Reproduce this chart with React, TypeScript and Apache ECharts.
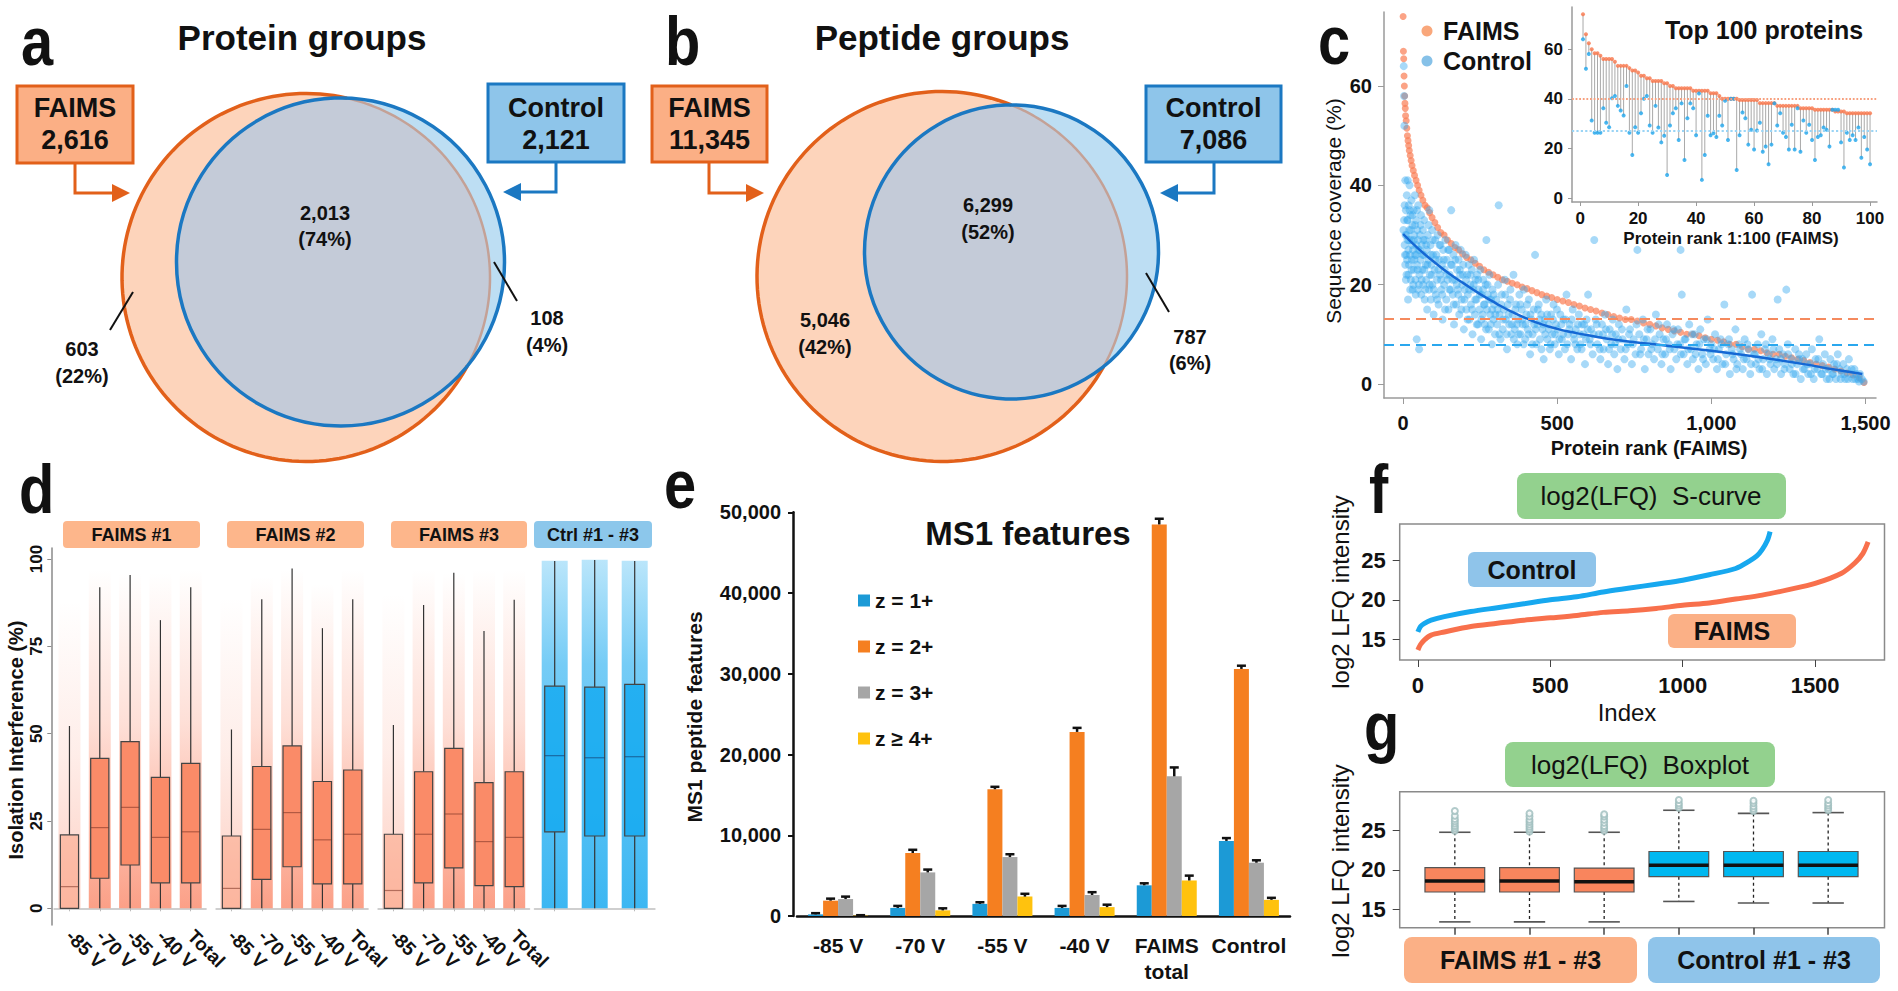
import React, { useEffect, useRef } from "react";
import * as echarts from "echarts";

const FONT = '"Liberation Sans", Arial, Helvetica, sans-serif';

// ---------------- Panels a & b : Venn diagrams ----------------
const vennTitles = ["Protein groups", "Peptide groups"];
const vennFaimsTotals = ["2,616", "11,345"];
const vennCtrlTotals = ["2,121", "7,086"];
const vennShared = ["2,013", "6,299"];
const vennSharedPct = ["(74%)", "(52%)"];
const vennFaimsOnly = ["603", "5,046"];
const vennFaimsOnlyPct = ["(22%)", "(42%)"];
const vennCtrlOnly = ["108", "787"];
const vennCtrlOnlyPct = ["(4%)", "(6%)"];

// ---------------- Panel c : sequence coverage ----------------
const faimsCov = [
  [0,74],[1,67],[2,65.5],[3,62],[4,60],[5,58],[6,56.5],[7,55.5],[8,54],[10,53],[12,51.5],[14,50],[16,49],[18,48],[20,47],[23,46],[26,45],[29,44],[33,43],[37,42],[42,41],[47,40],[52,39],[58,38],[64,37],[71,36],[78,35.5],[86,34.5],[94,33.5],[103,32.5],[112,31.5],[122,30.5],[133,30],[144,29],[156,28.3],[168,27.5],[180,27],[193,26.2],[206,25.5],[220,25],[234,24.3],[248,23.7],[262,23],[277,22.5],[292,22],[307,21.5],[322,21],[338,20.7],[354,20.3],[370,20],[386,19.5],[402,19.2],[418,18.8],[434,18.4],[450,18],[466,17.7],[482,17.4],[500,17],[518,16.7],[536,16.4],[554,16],[572,15.7],[590,15.3],[608,15],[626,14.7],[645,14.3],[664,14],[683,13.6],[702,13.3],[721,13],[740,13],[760,12.7],[780,12.3],[800,12],[820,11.7],[840,11.3],[860,11],[880,10.7],[900,10.4],[920,10],[940,10],[960,9.7],[980,9.3],[1000,9],[1020,8.8],[1040,8.5],[1060,8],[1080,8],[1100,7.5],[1120,7],[1140,7],[1160,6.7],[1180,6.3],[1200,6],[1220,6],[1240,5.6],[1260,5.3],[1280,5],[1300,4.7],[1320,4.3],[1340,4],[1360,3.7],[1380,3.4],[1400,3],[1420,2.6],[1440,2.2],[1460,1.8],[1480,1.2],[1495,0.3]
];
const ctrlCov = [
  [1,31],[2,64],[3,58],[4,52],[5,28],[6,26],[7,41],[8,30],[9,35],[10,26],[11,22],[12,38],[13,33],[14,29],[15,41],[16,17],[17,27],[18,36],[19,24],[20,31],[21,40],[22,26],[24,34],[25,21],[26,29],[27,37],[28,25],[30,32],[31,19],[32,27],[34,35],[35,23],[36,30],[38,38],[39,26],[40,21],[42,33],[43,28],[44,9],[45,24],[46,31],[48,19],[49,36],[50,27],[52,7],[53,22],[55,30],[56,25],[58,34],[59,18],[60,28],[62,23],[64,31],[65,20],[67,26],[68,33],[70,17],[72,29],[73,24],[75,21],[77,27],[78,15],[80,30],[82,25],[84,19],[85,35],[87,22],[89,28],[90,17],[92,24],[94,31],[95,20],[97,26],[99,14],
  [102,23],[104,29],[106,18],[108,26],[110,21],[112,30],[115,16],[117,25],[119,22],[121,28],[124,19],[126,24],[128,13],[130,27],[133,20],[135,23],[137,29],[140,17],[142,25],[144,21],[147,15],[149,27],[151,22],[154,19],[156,35],[158,24],[161,18],[163,26],[165,12],[168,21],[170,28],[172,16],[175,23],[177,19],[180,25],[182,14],[185,22],[187,27],[190,17],[192,20],[195,24],[197,11],[200,19],[203,26],[205,15],[208,22],[210,18],[213,24],[215,13],[218,20],[220,16],[223,23],[225,10],[228,19],[230,25],[233,14],[235,21],[238,17],[240,22],[243,12],[245,19],[248,15],[250,23],[253,9],[255,18],[258,14],[260,21],[262,16],[265,12],[268,20],[270,29],[272,15],[275,18],[278,11],[280,22],[283,14],[285,17],[288,8],[290,19],[293,13],[295,16],[298,10],
  [302,17],[305,12],[308,20],[310,36],[313,14],[316,9],[320,18],[323,11],[327,15],[330,21],[333,13],[337,7],[340,16],[344,12],[348,19],[351,10],[355,14],[358,22],[362,11],[366,16],[370,8],[373,13],[377,18],[381,10],[385,15],[388,12],[392,19],[396,9],[400,14],[404,11],[408,17],[412,6],[416,13],[420,10],[424,15],[428,26],[432,8],[436,12],[440,16],[444,9],[448,14],[452,11],[456,5],[460,13],[464,17],[468,9],[472,12],[476,7],[480,14],[484,10],[488,16],[492,8],[496,12],[500,11],[505,6],[510,14],[515,9],[520,13],[525,7],[530,18],[535,10],[540,12],[545,5],[550,15],[555,9],[560,11],[565,7],[570,14],[575,8],[580,12],[585,10],[590,4],[595,13],
  [600,18],[605,9],[610,11],[615,6],[620,29],[625,13],[630,8],[635,10],[640,5],[645,12],[650,7],[655,14],[660,9],[665,4],[670,11],[675,8],[680,13],[685,6],[690,10],[695,3],[700,12],[706,7],[712,9],[718,5],[724,15],[730,8],[736,11],[742,4],[748,9],[754,6],[760,27],[766,10],[772,7],[778,13],[784,3],[790,9],[796,6],[802,11],[808,8],[814,5],[820,14],[826,7],[832,10],[838,4],[844,9],[850,6],[856,12],[862,8],[868,3],[874,10],[880,7],[886,5],[892,11],[898,8],[900,27],[904,18],[910,6],[916,9],[922,4],[928,12],[934,7],[940,5],[946,10],[952,8],[958,3],[964,11],[970,6],[976,9],[982,4],[988,13],[994,7],
  [1000,8],[1006,5],[1012,10],[1018,3],[1024,7],[1030,9],[1036,4],[1042,16],[1048,6],[1054,8],[1060,2],[1066,7],[1072,5],[1078,11],[1084,4],[1090,8],[1096,6],[1102,3],[1108,9],[1114,5],[1120,7],[1126,2],[1132,18],[1138,6],[1144,4],[1150,8],[1156,3],[1162,10],[1168,5],[1174,7],[1180,2],[1186,6],[1192,4],[1198,9],[1204,3],[1210,5],[1215,17],[1220,7],[1226,2],[1232,6],[1238,4],[1243,19],[1248,8],[1254,3],[1260,5],[1266,2],[1272,7],[1278,4],[1284,6],[1290,1],[1296,5],
  [1302,3],[1308,6],[1314,2],[1320,4],[1326,7],[1332,1],[1338,5],[1344,3],[1350,9],[1356,2],[1362,4],[1368,6],[1374,1],[1380,3],[1386,5],[1392,2],[1398,4],[1404,1],[1410,6],[1416,3],[1422,2],[1428,4],[1434,1],[1440,3],[1446,5],[1452,2],[1458,1],[1464,3],[1470,2],[1476,1],[1482,2],[1488,1],[1494,0.5],
  [3,33],[5,36],[7,24],[9,21],[11,30],[13,25],[15,33],[17,22],[19,29],[21,35],[23,19],[25,31],[27,23],[29,28],[31,34],[33,20],[35,29],[37,25],[39,32],[41,18],[43,26],[45,35],[47,23],[49,29],[51,20],[54,27],[57,32],[60,21],[63,26],[66,29],[69,23],[72,19],[75,28],[79,24],[83,32],[86,20],[90,26],[93,22],[96,29],[100,19],[105,25],[110,17],[114,23],[118,28],[123,21],[127,18],[132,25],[136,15],[141,22],[146,27],[150,19],[155,24],[160,21],[164,16],[169,25],[174,20],[179,18],[184,23],[189,15],[194,22],[199,17],[204,21],[209,13],[214,19],[219,22],[224,15],[229,20],[234,17],[239,12],[244,21],[249,18],[254,13],[259,19],[264,16],[269,11],[274,20],[279,17],[284,12],[289,15],[294,18],[299,14],
  [306,15],[312,10],[318,16],[324,13],[331,18],[336,10],[342,14],[347,17],[353,12],[359,9],[364,15],[369,12],[375,10],[380,16],[386,13],[391,8],[397,12],[402,16],[407,10],[413,14],[419,8],[425,12],[430,11],[437,15],[443,13],[449,7],[455,12],[461,10],[467,14],[473,11],[479,8],[486,13],[493,10],[499,15],[507,9],[513,12],[519,10],[527,13],[533,8],[539,11],[547,13],[553,10],[559,8],[567,12],[573,10],[579,7],[587,12],[593,9],[599,11],[608,8],[618,10],[628,12],[638,7],[648,10],[658,11],[668,7],[678,10],[688,8],[698,9],
  [710,11],[722,7],[733,10],[745,8],[757,12],[769,6],[781,9],[793,11],[805,7],[817,9],[829,12],[841,6],[853,9],[865,7],[877,11],[889,8],[901,6],[913,9],[925,7],[937,10],[949,6],[961,8],[973,5],[985,9],[997,6],[1009,7],[1021,5],[1033,8],[1045,4],[1057,9],[1069,6],[1081,3],[1093,7],[1105,5],[1117,8],[1129,4],[1141,6],[1153,5],[1165,3],[1177,8],[1189,5],[1201,7],[1213,4],[1225,5],[1237,3],[1249,6],[1261,4],[1273,2],[1285,5],[1297,3],[1311,4],[1323,2],[1335,3],[1347,5],[1359,2],[1371,3],[1383,1],[1395,2],[1407,4],[1419,1],[1431,2],[1443,1],[1455,3],[1467,1],[1479,0.5]
];
const ctrlTrend = [[0,30.2],[50,27.2],[100,24.6],[150,22.2],[200,20.1],[250,18.1],[300,16.3],[350,14.6],[400,13.2],[450,12.0],[500,11.1],[550,10.4],[600,9.8],[700,8.8],[800,8.1],[900,7.4],[1000,6.7],[1100,5.9],[1200,5.0],[1300,4.0],[1400,2.9],[1490,2.0]];
const faimsMedianCov = 13.1;
const ctrlMedianCov = 8.0;
const cRankTicks = [0, 500, 1000, 1500];
const cCovTicks = [0, 20, 40, 60];

// inset: top 100 proteins (rank 1..100)
const topFaims = [74.1,66,62.4,60,58.4,58.4,57.4,56.1,56.1,56.1,56.1,55,53.3,53.3,53.3,53.3,52.4,51.4,51.4,50.6,49.3,49.3,48.3,48.3,47.2,47.2,47.2,47.2,46.3,46.3,45.2,45.2,44.3,44.3,44.3,44.3,44.3,44.3,43.3,43.3,43.3,43.3,43.3,43.3,42.3,42.3,42.3,41.2,40.1,40.1,40.1,40.1,40.1,40.1,39.6,39.6,39.6,39.6,39.6,39.6,39.6,38.3,38.3,38.3,38.3,38.3,38.3,37.2,37.2,37.2,37.2,37.2,37.2,37.2,37.2,36.2,36.2,36.2,36.2,36.2,35.6,35.6,35.6,35.6,35.6,35.6,35.6,34.9,34.9,34.9,34.9,34.2,34.2,34.2,34.2,34.2,34.2,34.2,34.2,34.2];
const topCtrl = [64,52.1,58.1,31.3,26.4,26.4,26.4,36.2,30.4,28.6,40.3,41.2,37.2,35.3,33.3,45.2,26.4,17.4,28.6,26.4,34.2,40.1,41.2,29.3,26.4,37.2,28.5,22.5,25.2,9.4,29.3,34.2,36.2,23.5,38.2,15.4,32.2,38.2,36.2,25.4,42.2,7.4,17.4,33.2,25.4,26.2,24.7,33.2,29.3,39.3,23.5,40.1,40.1,11.4,25.4,34.5,32.2,21.6,27.6,19.6,27.3,30.4,18.7,20.8,13.7,21.6,38.2,29.3,34.2,26.4,24.7,19.6,29.6,19.6,36.2,18.7,31.3,26.4,29.6,23.5,15.4,24.7,25.4,28.5,27.6,20.8,35.6,35.6,35.6,22.5,12.4,26.4,23.5,25.4,23.5,28.5,16.3,24.7,19.6,13.7];
const topFaimsMedian = 40;
const topCtrlMedian = 27;
const insetRankTicks = [0, 20, 40, 60, 80, 100];

// ---------------- Panel d : isolation interference ----------------
const dCats = ["-85 V", "-70 V", "-55 V", "-40 V", "Total"];
const dCtrlCats = ["Ctrl #1", "Ctrl #2", "Ctrl #3"];
const dStrips = ["FAIMS #1", "FAIMS #2", "FAIMS #3", "Ctrl #1 - #3"];
// [lower whisker, Q1, median, Q3, upper whisker]
const faims1Box = [[0,0,6.2,21,52.2],[0,8.6,23.1,42.9,91.9],[0,12.4,28.9,47.7,95.4],[0,7.3,20.3,37.5,82.5],[0,7.3,21.9,41.5,91.9]];
const faims2Box = [[0,0,5.7,20.7,51.2],[0,8.3,22.6,40.6,88.5],[0,11.9,27.4,46.5,97.3],[0,7.0,19.6,36.3,80.2],[0,7.0,21.2,39.6,88.5]];
const faims3Box = [[0,0,5.1,21.2,52.5],[0,7.3,21.2,39.1,86.8],[0,11.6,27.0,45.8,96.1],[0,6.5,19.1,36.0,79.4],[0,6.2,20.3,39.1,88.3]];
const ctrlBox = [[0,21.9,43.7,63.6,99.4],[0,20.7,43.1,63.3,99.7],[0,20.7,43.4,64.1,99.4]];
// top of the jittered point cloud
const faims1Cloud = [88, 97, 96, 96, 97];
const faims2Cloud = [89, 95, 97, 93, 97];
const faims3Cloud = [90, 97, 96, 97, 97];
const ctrlCloud = [99.5, 99.8, 99.5];
const dTicks = [0, 25, 50, 75, 100];

// ---------------- Panel e : MS1 features ----------------
const eCats = ["-85 V", "-70 V", "-55 V", "-40 V", "FAIMS\ntotal", "Control"];
const zNames = ["z = 1+", "z = 2+", "z = 3+", "z ≥ 4+"];
const z1 = [200, 1000, 1500, 1000, 3800, 9300];
const z2 = [1900, 7800, 15700, 22800, 48500, 30600];
const z3 = [2100, 5400, 7300, 2600, 17300, 6600];
const z4 = [50, 700, 2400, 1100, 4400, 2000];
const z1Err = [150, 250, 200, 250, 250, 350];
const z2Err = [250, 400, 300, 500, 700, 400];
const z3Err = [300, 350, 350, 350, 1100, 300];
const z4Err = [50, 250, 350, 300, 600, 250];

// ---------------- Panel f : S-curve ----------------
const sCurveCtrl = [[0,15.9],[10,16.6],[25,17.0],[50,17.4],[100,17.85],[200,18.5],[300,19.0],[400,19.5],[500,20.0],[600,20.4],[700,21.0],[800,21.5],[900,22.0],[1000,22.5],[1100,23.2],[1200,24.0],[1250,24.9],[1280,25.6],[1300,26.4],[1320,27.6],[1330,28.7]];
const sCurveFaims = [[0,13.6],[10,14.3],[25,14.9],[50,15.5],[100,15.9],[200,16.6],[300,17.0],[400,17.4],[500,17.7],[600,18.0],[700,18.4],[800,18.6],[900,18.9],[1000,19.3],[1100,19.6],[1200,20.1],[1300,20.6],[1400,21.3],[1500,22.1],[1600,23.4],[1650,24.7],[1680,25.9],[1700,27.4]];
const fIndexTicks = [0, 500, 1000, 1500];
const lfqTicks = [15, 20, 25];

// ---------------- Panel g : LFQ boxplot ----------------
const gCats = ["FAIMS #1", "FAIMS #2", "FAIMS #3", "Control #1", "Control #2", "Control #3"];
const gMin = [13.4, 13.4, 13.4, 16.0, 15.8, 15.8];
const gQ1 = [17.2, 17.2, 17.2, 19.15, 19.15, 19.15];
const gMed = [18.6, 18.6, 18.5, 20.6, 20.6, 20.6];
const gQ3 = [20.3, 20.3, 20.25, 22.35, 22.35, 22.35];
const gMax = [24.8, 24.8, 24.8, 27.6, 27.2, 27.3];
const gOutliers = [
  [0,25.0],[0,25.3],[0,25.6],[0,25.9],[0,26.2],[0,26.5],[0,26.9],[0,27.5],
  [1,24.9],[1,25.2],[1,25.5],[1,25.8],[1,26.1],[1,26.4],[1,26.8],[1,27.2],
  [2,25.0],[2,25.3],[2,25.6],[2,26.0],[2,26.4],[2,26.8],[2,27.1],
  [3,27.9],[3,28.2],[3,28.5],[3,28.9],
  [4,27.5],[4,27.8],[4,28.1],[4,28.5],[4,28.8],
  [5,27.6],[5,27.9],[5,28.2],[5,28.5],[5,28.9]
];

// ---------------- helpers ----------------
const ORANGE = "#E2601A";
const BLUE = "#1B78C2";
const fmt = (v: number) => Number(v).toLocaleString("en-US");
const plain = (v: number) => String(v);

function arcThrough(cx: number, cy: number, r: number, t1: number, t2: number, phi: number) {
  const TAU = Math.PI * 2;
  const mod = (v: number) => ((v % TAU) + TAU) % TAU;
  const du = mod(t2 - t1);
  const inc = mod(phi - t1) < du;
  const span = inc ? du : -(TAU - du);
  const pts: number[][] = [];
  const n = 120;
  for (let k = 0; k <= n; k++) {
    const t = t1 + (span * k) / n;
    pts.push([cx + r * Math.cos(t), cy + r * Math.sin(t)]);
  }
  return pts;
}

function venn(ax: number, ay: number, ar: number, bx: number, by: number, br: number) {
  const dx = bx - ax, dy = by - ay, d = Math.hypot(dx, dy);
  const a = (ar * ar - br * br + d * d) / (2 * d);
  const h = Math.sqrt(Math.max(0, ar * ar - a * a));
  const mx = ax + (a * dx) / d, my = ay + (a * dy) / d;
  const p1 = [mx - (h * dy) / d, my + (h * dx) / d];
  const p2 = [mx + (h * dy) / d, my - (h * dx) / d];
  const angA = (p: number[]) => Math.atan2(p[1] - ay, p[0] - ax);
  const angB = (p: number[]) => Math.atan2(p[1] - by, p[0] - bx);
  const phiA = Math.atan2(dy, dx);
  const phiB = Math.atan2(-dy, -dx);
  const bIn = arcThrough(bx, by, br, angB(p1), angB(p2), phiB);
  const aIn = arcThrough(ax, ay, ar, angA(p2), angA(p1), phiA);
  const aOut = arcThrough(ax, ay, ar, angA(p2), angA(p1), phiA + Math.PI);
  return [
    { type: "circle", z: 1, silent: true, shape: { cx: ax, cy: ay, r: ar }, style: { fill: "#FDD4BB", stroke: "none" } },
    { type: "circle", z: 2, silent: true, shape: { cx: bx, cy: by, r: br }, style: { fill: "#BDDEF3", stroke: "none" } },
    { type: "polygon", z: 3, silent: true, shape: { points: bIn.concat(aIn) }, style: { fill: "#C4CBD8", stroke: "none" } },
    { type: "polyline", z: 4, silent: true, shape: { points: aIn }, style: { fill: "none", stroke: "#C4A196", lineWidth: 2.5 } },
    { type: "polyline", z: 4, silent: true, shape: { points: aOut }, style: { fill: "none", stroke: ORANGE, lineWidth: 3.5 } },
    { type: "circle", z: 5, silent: true, shape: { cx: bx, cy: by, r: br }, style: { fill: "none", stroke: BLUE, lineWidth: 3.5 } },
  ];
}

function buildGraphics() {
  const G: any[] = [];
  const T = (x: number, y: number, text: string, size: number, o: any = {}) =>
    G.push({
      type: "text", x, y, rotation: o.rot || 0, scaleX: o.sx || 1, z: 20, silent: true,
      style: {
        text, fontSize: size, fontWeight: o.w || "bold", fontFamily: FONT, fill: o.c || "#111",
        align: o.a || "center", verticalAlign: "middle", textAlign: o.a || "center", textVerticalAlign: "middle",
      },
    });
  const R = (x: number, y: number, w: number, h: number, fill: string, stroke?: string, lw = 0, r = 0) =>
    G.push({ type: "rect", z: 6, silent: true, shape: { x, y, width: w, height: h, r }, style: { fill, stroke: stroke || "none", lineWidth: lw } });
  const PL = (pts: number[][], color: string) =>
    G.push({ type: "polyline", z: 6, silent: true, shape: { points: pts }, style: { fill: "none", stroke: color, lineWidth: 3 } });
  const PG = (pts: number[][], color: string) =>
    G.push({ type: "polygon", z: 6, silent: true, shape: { points: pts }, style: { fill: color, stroke: "none" } });
  const LN = (x1: number, y1: number, x2: number, y2: number) =>
    G.push({ type: "line", z: 8, silent: true, shape: { x1, y1, x2, y2 }, style: { stroke: "#111", lineWidth: 2 } });

  // panel letters
  const L = (x: number, y: number, t: string) => T(x, y, t, 68, { a: "left", sx: 0.85 });
  L(21, 41, "a"); L(665, 41, "b"); L(1318, 40, "c"); L(19, 489, "d"); L(664, 484, "e"); L(1369, 489, "f"); L(1364, 726, "g");

  // ---- Venn a ----
  G.push(...venn(306, 277.5, 184, 340.5, 262, 164));
  T(302, 37, vennTitles[0], 35);
  R(17, 86, 116, 77, "#FBAF85", ORANGE, 3);
  T(75, 108, "FAIMS", 27); T(75, 140, vennFaimsTotals[0], 27);
  R(488, 84, 136, 78, "#8EC5EA", BLUE, 3);
  T(556, 108, "Control", 27); T(556, 140, vennCtrlTotals[0], 27);
  PL([[75, 163], [75, 193], [114, 193]], ORANGE); PG([[112, 184], [130, 193], [112, 202]], ORANGE);
  PL([[556, 162], [556, 192], [519, 192]], BLUE); PG([[521, 183], [503, 192], [521, 201]], BLUE);
  T(325, 213, vennShared[0], 20); T(325, 239, vennSharedPct[0], 20);
  T(82, 349, vennFaimsOnly[0], 20); T(82, 376, vennFaimsOnlyPct[0], 20);
  T(547, 318, vennCtrlOnly[0], 20); T(547, 345, vennCtrlOnlyPct[0], 20);
  LN(133, 292, 110, 330); LN(494, 262, 517, 301);

  // ---- Venn b ----
  G.push(...venn(942, 276.5, 185, 1011.5, 252, 147));
  T(942, 37, vennTitles[1], 35);
  R(652, 86, 115, 76, "#FBAF85", ORANGE, 3);
  T(709.5, 108, "FAIMS", 27); T(709.5, 140, vennFaimsTotals[1], 27);
  R(1146, 86, 135, 76, "#8EC5EA", BLUE, 3);
  T(1213.5, 108, "Control", 27); T(1213.5, 140, vennCtrlTotals[1], 27);
  PL([[709, 162], [709, 193], [748, 193]], ORANGE); PG([[746, 184], [764, 193], [746, 202]], ORANGE);
  PL([[1214, 162], [1214, 193], [1177, 193]], BLUE); PG([[1178, 184], [1160, 193], [1178, 202]], BLUE);
  T(988, 205, vennShared[1], 20); T(988, 232, vennSharedPct[1], 20);
  T(825, 320, vennFaimsOnly[1], 20); T(825, 347, vennFaimsOnlyPct[1], 20);
  T(1190, 337, vennCtrlOnly[1], 20); T(1190, 363, vennCtrlOnlyPct[1], 20);
  LN(1146, 273, 1169, 312);

  // ---- panel c texts ----
  T(1333, 211, "Sequence coverage (%)", 21, { rot: Math.PI / 2, w: "normal" });
  T(1649, 448, "Protein rank (FAIMS)", 20);
  G.push({ type: "circle", z: 20, silent: true, shape: { cx: 1427, cy: 31, r: 5.5 }, style: { fill: "#F9A77B" } });
  G.push({ type: "circle", z: 20, silent: true, shape: { cx: 1427, cy: 61, r: 5.5 }, style: { fill: "#86C1E8" } });
  T(1443, 31, "FAIMS", 25, { a: "left" });
  T(1443, 61, "Control", 25, { a: "left" });
  T(1764, 30, "Top 100 proteins", 25);
  T(1731, 238, "Protein rank 1:100 (FAIMS)", 17);

  // ---- panel d texts ----
  const stripX = [[63, 137], [227, 137], [391, 136], [534, 118]];
  stripX.forEach(([x, w], i) => {
    R(x, 521, w, 27, i < 3 ? "#FDB68B" : "#8CC7EB", undefined, 0, 4);
    T(x + w / 2, 535, dStrips[i], 18);
  });
  T(16, 740, "Isolation Interference (%)", 20, { rot: Math.PI / 2 });

  // ---- panel e texts ----
  T(1028, 533, "MS1 features", 33);
  T(694, 717, "MS1 peptide features", 21, { rot: Math.PI / 2 });

  // ---- panel f ----
  R(1517, 473, 269, 46, "#93D18E", undefined, 0, 8);
  T(1651, 496, "log2(LFQ)  S-curve", 26, { w: "normal" });
  R(1468, 552, 128, 35, "#8FC4EA", undefined, 0, 6);
  T(1532, 569.5, "Control", 25);
  R(1668, 614, 128, 34, "#FBB086", undefined, 0, 6);
  T(1732, 631, "FAIMS", 25);
  T(1340, 592, "log2 LFQ intensity", 24, { rot: Math.PI / 2, w: "normal" });
  T(1627, 712, "Index", 24, { w: "normal" });

  // ---- panel g ----
  R(1505, 742, 270, 45, "#93D18E", undefined, 0, 8);
  T(1640, 764.5, "log2(LFQ)  Boxplot", 26, { w: "normal" });
  R(1404, 937, 233, 46, "#FBB086", undefined, 0, 8);
  T(1520.5, 960, "FAIMS #1 - #3", 25);
  R(1648, 937, 232, 46, "#8FC4EA", undefined, 0, 8);
  T(1764, 960, "Control #1 - #3", 25);
  T(1340, 861, "log2 LFQ intensity", 24, { rot: Math.PI / 2, w: "normal" });
  return G;
}

function dBoxRenderer(fills: string[], medColor: string, ratio: number) {
  return (params: any, api: any) => {
    const i = api.value(0);
    const lo = api.coord([i, api.value(1)]);
    const q1 = api.coord([i, api.value(2)]);
    const md = api.coord([i, api.value(3)]);
    const q3 = api.coord([i, api.value(4)]);
    const hi = api.coord([i, api.value(5)]);
    const bw = api.size([1, 0])[0] * ratio;
    const x = lo[0];
    return {
      type: "group",
      children: [
        { type: "line", shape: { x1: x, y1: hi[1], x2: x, y2: q3[1] }, style: { stroke: "#333", lineWidth: 1.2 } },
        { type: "line", shape: { x1: x, y1: q1[1], x2: x, y2: lo[1] }, style: { stroke: "#333", lineWidth: 1.2 } },
        { type: "rect", shape: { x: x - bw / 2, y: q3[1], width: bw, height: q1[1] - q3[1] }, style: { fill: fills[params.dataIndex], stroke: "#444", lineWidth: 1.2 } },
        { type: "line", shape: { x1: x - bw / 2, y1: md[1], x2: x + bw / 2, y2: md[1] }, style: { stroke: medColor, lineWidth: 1.2 } },
      ],
    };
  };
}

function gBoxRenderer(params: any, api: any) {
  const i = api.value(0);
  const lo = api.coord([i, api.value(1)]);
  const q1 = api.coord([i, api.value(2)]);
  const md = api.coord([i, api.value(3)]);
  const q3 = api.coord([i, api.value(4)]);
  const hi = api.coord([i, api.value(5)]);
  const band = api.size([1, 0])[0];
  const bw = band * 0.8, cw = band * 0.42;
  const x = lo[0];
  const fill = params.dataIndex < 3 ? "#F9855D" : "#00B8F0";
  return {
    type: "group",
    children: [
      { type: "line", shape: { x1: x, y1: hi[1], x2: x, y2: q3[1] }, style: { stroke: "#222", lineWidth: 1.3, lineDash: [3, 3] } },
      { type: "line", shape: { x1: x, y1: q1[1], x2: x, y2: lo[1] }, style: { stroke: "#222", lineWidth: 1.3, lineDash: [3, 3] } },
      { type: "line", shape: { x1: x - cw / 2, y1: hi[1], x2: x + cw / 2, y2: hi[1] }, style: { stroke: "#555", lineWidth: 1.6 } },
      { type: "line", shape: { x1: x - cw / 2, y1: lo[1], x2: x + cw / 2, y2: lo[1] }, style: { stroke: "#555", lineWidth: 1.6 } },
      { type: "rect", shape: { x: x - bw / 2, y: q3[1], width: bw, height: q1[1] - q3[1] }, style: { fill, stroke: "#555", lineWidth: 1.2 } },
      { type: "line", shape: { x1: x - bw / 2, y1: md[1], x2: x + bw / 2, y2: md[1] }, style: { stroke: "#111", lineWidth: 3.5 } },
    ],
  };
}

function cloudGradient(kind: string) {
  const stops =
    kind === "ctrl"
      ? [{ offset: 0, color: "rgba(25,170,240,0.3)" }, { offset: 0.3, color: "rgba(25,170,240,0.6)" }, { offset: 1, color: "rgba(25,170,240,0.85)" }]
      : kind === "light"
      ? [{ offset: 0, color: "rgba(250,128,95,0)" }, { offset: 0.5, color: "rgba(250,128,95,0.14)" }, { offset: 1, color: "rgba(250,128,95,0.38)" }]
      : [{ offset: 0, color: "rgba(250,128,95,0)" }, { offset: 0.45, color: "rgba(250,128,95,0.25)" }, { offset: 1, color: "rgba(250,128,95,0.75)" }];
  return new echarts.graphic.LinearGradient(0, 0, 0, 1, stops);
}

function buildOption() {
  const grayAxis = { show: true, onZero: false, lineStyle: { color: "#9a9a9a", width: 1.5 } };
  const boldLbl = (size: number, extra: any = {}) => ({ fontSize: size, fontWeight: "bold", color: "#111", fontFamily: FONT, ...extra });

  const grid = [
    { left: 1384, top: 12, width: 492, height: 386 }, // 0 c main
    { left: 1572, top: 7, width: 305, height: 195 }, // 1 c inset
    { left: 54.3, top: 548, width: 151.6, height: 377 }, // 2 d f1
    { left: 216.3, top: 548, width: 151.6, height: 377 }, // 3 d f2
    { left: 378.3, top: 548, width: 151, height: 377 }, // 4 d f3
    { left: 534.7, top: 548, width: 120, height: 377 }, // 5 d ctrl
    { left: 797, top: 512.3, width: 493, height: 403.7 }, // 6 e
    { left: 1399.7, top: 524, width: 484.8, height: 136, show: true, borderColor: "#8a8a8a", borderWidth: 1.5 }, // 7 f
    { left: 1399.7, top: 791.7, width: 484.8, height: 136, show: true, borderColor: "#8a8a8a", borderWidth: 1.5 }, // 8 g frame
    { left: 1417.5, top: 791.7, width: 448, height: 136 }, // 9 g boxes
  ].map((g) => ({ ...g, containLabel: false, outerBoundsMode: "none" }));

  const dX = (k: number) => ({
    type: "category", gridIndex: 2 + k, data: k < 3 ? dCats : dCtrlCats,
    axisLine: { show: true, lineStyle: { color: "#cfcfcf", width: 2 } },
    axisTick: { show: true, alignWithLabel: true, length: 3, lineStyle: { color: "#bbb" } },
    axisLabel: k < 3 ? boldLbl(19, { rotate: -45, interval: 0, margin: 8 }) : { show: false },
  });
  const dY = (k: number) => ({
    type: "value", gridIndex: 2 + k, min: -4.78, max: 103.15, show: k === 0, offset: 3,
    axisLine: { show: true, lineStyle: { color: "#8a8a8a", width: 1.5 } },
    axisTick: { show: true, length: 4, customValues: dTicks, lineStyle: { color: "#8a8a8a" } },
    axisLabel: boldLbl(17, { rotate: 90, margin: 6, customValues: dTicks }),
    splitLine: { show: false },
  });

  const xAxis = [
    { type: "value", gridIndex: 0, min: -62, max: 1534, axisLine: grayAxis, axisTick: { show: true, length: 6, customValues: cRankTicks, lineStyle: { color: "#9a9a9a" } }, axisLabel: boldLbl(20, { margin: 15, customValues: cRankTicks, formatter: fmt }), splitLine: { show: false } },
    { type: "value", gridIndex: 1, min: -2.8, max: 102.4, axisLine: grayAxis, axisTick: { show: true, length: 4, customValues: insetRankTicks, lineStyle: { color: "#9a9a9a" } }, axisLabel: boldLbl(17, { margin: 8, customValues: insetRankTicks, formatter: plain }), splitLine: { show: false } },
    dX(0), dX(1), dX(2), dX(3),
    { type: "category", gridIndex: 6, data: eCats, axisLine: { show: true, lineStyle: { color: "#111", width: 2.5 } }, axisTick: { show: false }, axisLabel: boldLbl(21, { margin: 16, lineHeight: 26, interval: 0 }) },
    { type: "value", gridIndex: 7, min: -68.6, max: 1762, axisLine: { show: false, onZero: false }, axisTick: { show: true, length: 7, customValues: fIndexTicks, lineStyle: { color: "#444" } }, axisLabel: boldLbl(22, { margin: 14, customValues: fIndexTicks, formatter: plain }), splitLine: { show: false } },
    { type: "value", gridIndex: 8, min: 0, max: 1, show: false },
    { type: "category", gridIndex: 9, data: gCats, axisLine: { show: false, onZero: false }, axisTick: { show: true, alignWithLabel: true, length: 7, lineStyle: { color: "#444", width: 1.5 } }, axisLabel: { show: false } },
  ];

  const yAxis = [
    { type: "value", gridIndex: 0, min: -2.82, max: 74.9, axisLine: grayAxis, axisTick: { show: true, length: 6, customValues: cCovTicks, lineStyle: { color: "#9a9a9a" } }, axisLabel: boldLbl(20, { margin: 12, customValues: cCovTicks, formatter: plain }), splitLine: { show: false } },
    { type: "value", gridIndex: 1, min: -1.5, max: 77, axisLine: grayAxis, axisTick: { show: true, length: 4, customValues: cCovTicks, lineStyle: { color: "#9a9a9a" } }, axisLabel: boldLbl(17, { margin: 9, customValues: cCovTicks, formatter: plain }), splitLine: { show: false } },
    dY(0), dY(1), dY(2), dY(3),
    { type: "value", gridIndex: 6, min: 0, max: 50000, interval: 10000, offset: 4, axisLine: { show: true, lineStyle: { color: "#111", width: 2.5 } }, axisTick: { show: true, length: 5, lineStyle: { color: "#111", width: 2 } }, axisLabel: boldLbl(20, { margin: 12, formatter: fmt }), splitLine: { show: false } },
    { type: "value", gridIndex: 7, min: 12.32, max: 29.68, axisLine: { show: false, onZero: false }, axisTick: { show: true, length: 7, customValues: lfqTicks, lineStyle: { color: "#444" } }, axisLabel: boldLbl(22, { margin: 14, customValues: lfqTicks, formatter: plain }), splitLine: { show: false } },
    { type: "value", gridIndex: 8, min: 12.66, max: 29.96, axisLine: { show: false, onZero: false }, axisTick: { show: true, length: 7, customValues: lfqTicks, lineStyle: { color: "#444" } }, axisLabel: boldLbl(22, { margin: 14, customValues: lfqTicks, formatter: plain }), splitLine: { show: false } },
    { type: "value", gridIndex: 9, min: 12.66, max: 29.96, show: false, splitLine: { show: false } },
  ];

  const series: any[] = [];
  // ---- c main ----
  series.push({ type: "scatter", name: "FAIMS", xAxisIndex: 0, yAxisIndex: 0, data: faimsCov, symbolSize: 7, itemStyle: { color: "rgba(249,128,88,0.9)" }, z: 2, silent: true });
  series.push({
    type: "scatter", name: "Control", xAxisIndex: 0, yAxisIndex: 0, data: ctrlCov, symbolSize: 8, itemStyle: { color: "rgba(55,168,240,0.55)" }, z: 3, silent: true,
    markLine: {
      silent: true, symbol: "none", label: { show: false },
      data: [
        { yAxis: faimsMedianCov, lineStyle: { color: "#F58A5E", type: [10, 6], width: 2 } },
        { yAxis: ctrlMedianCov, lineStyle: { color: "#2AA7EE", type: [10, 6], width: 2 } },
      ],
    },
  });
  series.push({ type: "line", name: "Control trend", xAxisIndex: 0, yAxisIndex: 0, data: ctrlTrend, smooth: true, showSymbol: false, lineStyle: { color: "#1568D4", width: 2.5 }, z: 4, silent: true });
  // ---- c inset ----
  series.push({
    type: "custom", xAxisIndex: 1, yAxisIndex: 1, silent: true, z: 2,
    data: topFaims.map((v, i) => [i + 1, v, topCtrl[i]]),
    encode: { x: 0, y: [1, 2] },
    renderItem: (p: any, api: any) => {
      const a = api.coord([api.value(0), api.value(1)]);
      const b = api.coord([api.value(0), api.value(2)]);
      return { type: "line", shape: { x1: a[0], y1: a[1], x2: b[0], y2: b[1] }, style: { stroke: "#8c8c8c", lineWidth: 1, opacity: 0.75 } };
    },
  });
  series.push({
    type: "scatter", xAxisIndex: 1, yAxisIndex: 1, data: topFaims.map((v, i) => [i + 1, v]), symbolSize: 4, itemStyle: { color: "#F9764A" }, z: 3, silent: true,
    markLine: { silent: true, symbol: "none", label: { show: false }, data: [{ yAxis: topFaimsMedian, lineStyle: { color: "#F7A07F", type: "dotted", width: 1.8 } }] },
  });
  series.push({
    type: "scatter", xAxisIndex: 1, yAxisIndex: 1, data: topCtrl.map((v, i) => [i + 1, v]), symbolSize: 4, itemStyle: { color: "#1EA5EC" }, z: 3, silent: true,
    markLine: { silent: true, symbol: "none", label: { show: false }, data: [{ yAxis: topCtrlMedian, lineStyle: { color: "#9AD4F5", type: "dotted", width: 2.2 } }] },
  });
  // ---- d ----
  const dBoxes = [faims1Box, faims2Box, faims3Box, ctrlBox];
  const dClouds = [faims1Cloud, faims2Cloud, faims3Cloud, ctrlCloud];
  dBoxes.forEach((boxes, k) => {
    const isCtrl = k === 3;
    series.push({
      type: "bar", xAxisIndex: 2 + k, yAxisIndex: 2 + k, silent: true, z: 1, barWidth: isCtrl ? 26 : 22,
      data: dClouds[k].map((v, i) => ({ value: v, itemStyle: { color: cloudGradient(isCtrl ? "ctrl" : i === 0 ? "light" : "faims") } })),
    });
    const fills = boxes.map((b, i) => (isCtrl ? "rgba(20,170,240,0.82)" : i === 0 ? "rgba(250,150,115,0.45)" : "#FA8B68"));
    series.push({
      type: "custom", xAxisIndex: 2 + k, yAxisIndex: 2 + k, silent: true, z: 3,
      data: boxes.map((b, i) => [i, ...b]),
      encode: { x: 0, y: [1, 2, 3, 4, 5] },
      renderItem: dBoxRenderer(fills, isCtrl ? "rgba(20,60,110,0.6)" : "rgba(120,50,35,0.55)", isCtrl ? 0.5 : 0.6),
    });
  });
  // ---- e ----
  const zVals = [z1, z2, z3, z4];
  const zErrs = [z1Err, z2Err, z3Err, z4Err];
  const zColors = ["#1C9AD6", "#F57F20", "#A6A6A6", "#FFC20E"];
  zNames.forEach((n, s) => {
    series.push({ type: "bar", name: n, xAxisIndex: 6, yAxisIndex: 6, data: zVals[s], barWidth: 15, barGap: "0%", itemStyle: { color: zColors[s] }, silent: true });
  });
  const errData: number[][] = [];
  zVals.forEach((vals, s) => vals.forEach((v, c) => errData.push([c, v, zErrs[s][c], s])));
  series.push({
    type: "custom", xAxisIndex: 6, yAxisIndex: 6, silent: true, z: 5, data: errData, encode: { x: 0, y: 1 },
    renderItem: (p: any, api: any) => {
      const c = api.value(0), v = api.value(1), e = api.value(2), s = api.value(3);
      const base = api.coord([c, v]);
      const top = api.coord([c, v + e]);
      const x = base[0] + (s - 1.5) * 15;
      return {
        type: "group",
        children: [
          { type: "line", shape: { x1: x, y1: base[1], x2: x, y2: top[1] }, style: { stroke: "#111", lineWidth: 2.5 } },
          { type: "line", shape: { x1: x - 4.5, y1: top[1], x2: x + 4.5, y2: top[1] }, style: { stroke: "#111", lineWidth: 2.5 } },
        ],
      };
    },
  });
  // ---- f ----
  series.push({ type: "line", name: "FAIMS S-curve", xAxisIndex: 7, yAxisIndex: 7, data: sCurveFaims, smooth: 0.3, showSymbol: false, lineStyle: { color: "#F8704C", width: 5 }, silent: true });
  series.push({ type: "line", name: "Control S-curve", xAxisIndex: 7, yAxisIndex: 7, data: sCurveCtrl, smooth: 0.3, showSymbol: false, lineStyle: { color: "#17A8EF", width: 5 }, silent: true });
  // ---- g ----
  series.push({
    type: "custom", xAxisIndex: 9, yAxisIndex: 9, silent: true, z: 3,
    data: gCats.map((c, i) => [i, gMin[i], gQ1[i], gMed[i], gQ3[i], gMax[i]]),
    encode: { x: 0, y: [1, 2, 3, 4, 5] },
    renderItem: gBoxRenderer,
  });
  series.push({ type: "scatter", xAxisIndex: 9, yAxisIndex: 9, data: gOutliers, symbol: "emptyCircle", symbolSize: 6, itemStyle: { color: "#9EBDBD", borderColor: "#9EBDBD", borderWidth: 1 }, z: 4, silent: true });

  return {
    animation: false,
    backgroundColor: "#fff",
    textStyle: { fontFamily: FONT },
    grid,
    xAxis,
    yAxis,
    legend: {
      data: zNames, orient: "vertical", left: 853, top: 585, itemWidth: 12, itemHeight: 12, itemGap: 25, icon: "rect", selectedMode: false,
      textStyle: { fontSize: 21, fontWeight: "bold", color: "#111", fontFamily: FONT },
    },
    series,
    graphic: { elements: buildGraphics() },
  };
}

export default function App() {
  const ref = useRef<HTMLDivElement>(null);
  useEffect(() => {
    const chart = echarts.init(ref.current as HTMLDivElement, null, { renderer: "svg" });
    chart.setOption(buildOption() as any);
    return () => chart.dispose();
  }, []);
  return <div ref={ref} style={{ position: "absolute", left: 0, top: 0, width: 1898, height: 991, background: "#fff" }} />;
}
